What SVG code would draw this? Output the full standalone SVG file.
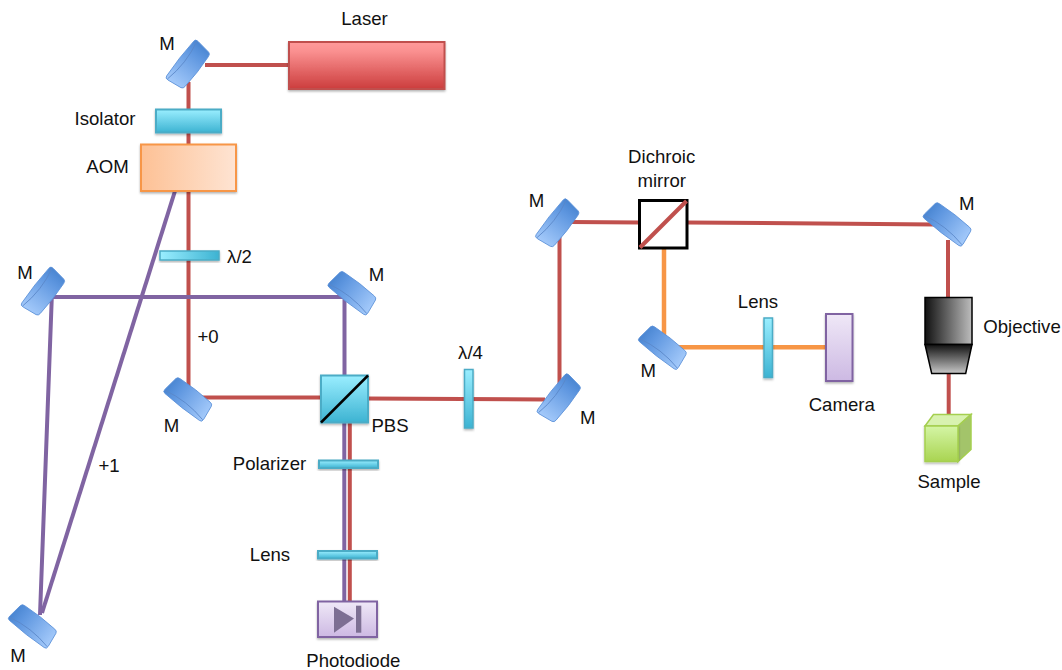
<svg xmlns="http://www.w3.org/2000/svg" width="1062" height="670" viewBox="0 0 1062 670">
<style>
text{font-family:"Liberation Sans",Arial,sans-serif;font-size:18.6px;fill:#111;text-anchor:middle}
.r{fill:none;stroke:#c0504d;stroke-width:4}
.p{fill:none;stroke:#8064a2;stroke-width:4}
.o{fill:none;stroke:#f79646;stroke-width:4.5}
.c{stroke:#4bacc6;stroke-width:2;fill:url(#cyan);filter:url(#sh)}
.v{stroke:#8064a2;stroke-width:2;fill:url(#violet);filter:url(#sh)}
</style>
<defs>
<filter id="sh" x="-20%" y="-20%" width="140%" height="150%"><feDropShadow dx="0" dy="1.5" stdDeviation="1.2" flood-color="#000" flood-opacity=".3"/></filter>
<linearGradient id="red" x1="0" y1="0" x2="0" y2="1"><stop offset="0" stop-color="#ff9a9a"/><stop offset=".2" stop-color="#fa9090"/><stop offset="1" stop-color="#cc3d3d"/></linearGradient>
<linearGradient id="cyan" x1="0" y1="0" x2="0" y2="1"><stop offset="0" stop-color="#9aeeff"/><stop offset="1" stop-color="#3db3d2"/></linearGradient>
<linearGradient id="cyanH" x1="0" y1="0" x2="1" y2="0"><stop offset="0" stop-color="#9aeeff"/><stop offset="1" stop-color="#3db3d2"/></linearGradient>
<linearGradient id="orange" x1="0" y1="0" x2="1" y2="0"><stop offset="0" stop-color="#fdc195"/><stop offset="1" stop-color="#fee4d3"/></linearGradient>
<linearGradient id="violet" x1="0" y1="0" x2="0" y2="1"><stop offset="0" stop-color="#efe8f7"/><stop offset="1" stop-color="#cdb9e3"/></linearGradient>
<linearGradient id="objA" x1="0" y1="0" x2="1" y2="0"><stop offset="0" stop-color="#111"/><stop offset="1" stop-color="#bdbdbd"/></linearGradient>
<linearGradient id="objB" x1="0" y1="0" x2="0" y2="1"><stop offset="0" stop-color="#111"/><stop offset="1" stop-color="#c8c8c8"/></linearGradient>
<linearGradient id="green" x1="0" y1="0" x2="0" y2="1"><stop offset="0" stop-color="#d4f5a5"/><stop offset="1" stop-color="#a9d451"/></linearGradient>
<linearGradient id="mir" x1="-24" y1="0" x2="24" y2="0" gradientUnits="userSpaceOnUse"><stop offset="0" stop-color="#a3c9fa"/><stop offset=".75" stop-color="#5f97e0"/><stop offset="1" stop-color="#4a86d2"/></linearGradient>
<path id="mshape" d="M-22,-10.500 Q0,-12 22,-10.500 Q25,-10.500 24.500,-7 L22.500,8 Q22,10.500 19,10.500 Q0,12 -19,10.500 Q-22,10.500 -22.500,8 L-24.500,-7 Q-25,-10.500 -22,-10.500Z"/>
<g id="mirror">
<use href="#mshape" fill="url(#mir)" stroke="#5a90d8" stroke-width=".8"/>
<path d="M-24,-8 Q0,-2.500 24,-8" fill="none" stroke="#5a87c8" stroke-width=".8"/>
</g>
</defs>
<rect width="1062" height="670" fill="#fff"/>
<g id="connectors">
<path class="r" d="M205,65H289"/>
<path class="r" d="M188.500,82V397.500H321"/>
<path class="r" d="M368,398.500L545,399.500"/>
<path class="r" d="M559.500,385V223"/>
<path class="r" d="M570,222L640,222.500"/>
<path class="r" d="M687,222.500L935,224.500"/>
<path class="r" d="M948,240V297"/>
<path class="r" d="M948.700,374V414"/>
<path class="r" d="M349.800,422V601.500"/>
<path class="p" d="M175,191L42,613"/>
<path class="p" d="M40,615L51.800,297H344.500V375"/>
<path class="p" d="M344.300,422V601.500"/>
<path class="o" d="M664,248V335"/>
<path class="o" d="M675,347.300H826"/>
</g>
<g id="laser"><rect x="289" y="42" width="155.500" height="47" fill="url(#red)" stroke="#c0504d" stroke-width="2" filter="url(#sh)"/><text x="364.500" y="25">Laser</text></g>
<g id="mirror-laser"><use href="#mirror" transform="translate(188.500,65) rotate(-52)"/><text x="167" y="50">M</text></g>
<g id="isolator"><rect class="c" x="156" y="109.500" width="65" height="23"/><text x="105" y="125">Isolator</text></g>
<g id="aom"><rect x="141" y="144.500" width="95" height="46.500" fill="url(#orange)" stroke="#f79646" stroke-width="2" filter="url(#sh)"/><text x="107.500" y="173">AOM</text></g>
<g id="half-wave"><rect x="160" y="251" width="59" height="9" fill="url(#cyanH)" stroke="#4bacc6" stroke-width="1.500" filter="url(#sh)"/><text x="239.500" y="263">λ/2</text></g>
<g id="mirror-left"><use href="#mirror" transform="translate(43.700,292) rotate(-52)"/><text x="25" y="279">M</text></g>
<g id="mirror-top"><use href="#mirror" transform="translate(352.800,292.500) rotate(-142)"/><text x="376.500" y="281">M</text></g>
<g id="mirror-lower"><use href="#mirror" transform="translate(188.700,398.700) rotate(-142)"/><text x="171.500" y="432">M</text></g>
<g id="mirror-bottom"><use href="#mirror" transform="translate(33.300,625.700) rotate(-142)"/><text x="18" y="662">M</text></g>
<g id="order-labels"><text x="208" y="343">+0</text><text x="109" y="472">+1</text></g>
<g id="pbs"><rect class="c" x="321" y="375.500" width="47" height="47"/><path d="M321,422.500L368,375.500" stroke="#000" stroke-width="2.500"/><text x="390" y="432">PBS</text></g>
<g id="quarter-wave"><rect x="464.500" y="369.500" width="8.500" height="58.500" fill="url(#cyan)" stroke="#4bacc6" stroke-width="1.500" filter="url(#sh)"/><text x="470.500" y="359">λ/4</text></g>
<g id="polarizer"><rect class="c" x="319" y="460.500" width="59" height="7.500"/><text x="269.500" y="470">Polarizer</text></g>
<g id="lens-1"><rect class="c" x="318" y="551" width="59" height="7.500"/><text x="270" y="561">Lens</text></g>
<g id="photodiode"><rect class="v" x="318" y="601.500" width="59" height="35.500"/><path d="M334,606.700L354,618.500L334,632.700Z" fill="#7d6f93"/><rect x="356" y="605.700" width="5.300" height="27" fill="#7d6f93"/><text x="353.300" y="667">Photodiode</text></g>
<g id="mirror-r1"><use href="#mirror" transform="translate(558,223.700) rotate(-52)"/><text x="536.500" y="207">M</text></g>
<g id="mirror-r2"><use href="#mirror" transform="translate(559.500,398.700) rotate(-52)"/><text x="587.700" y="424">M</text></g>
<g id="mirror-r3"><use href="#mirror" transform="translate(663.300,347) rotate(-142)"/><text x="648.300" y="377">M</text></g>
<g id="mirror-r4"><use href="#mirror" transform="translate(948,223.700) rotate(-142)"/><text x="966.700" y="210">M</text></g>
<g id="dichroic"><rect x="639.500" y="200.500" width="47.500" height="47.500" fill="#fff" stroke="#000" stroke-width="3"/><path d="M640,247.500L686.500,201" stroke="#c0504d" stroke-width="4"/><text x="661.700" y="163">Dichroic</text><text x="661.700" y="187">mirror</text></g>
<g id="lens-2"><rect x="764" y="318" width="8.500" height="59.500" fill="url(#cyan)" stroke="#4bacc6" stroke-width="1.500" filter="url(#sh)"/><text x="758" y="308">Lens</text></g>
<g id="camera"><rect class="v" x="826" y="314" width="26.500" height="67"/><text x="841.700" y="411">Camera</text></g>
<g id="objective"><rect x="925" y="297.500" width="47" height="47" fill="url(#objA)" stroke="#000" stroke-width="1.500"/><path d="M925,344.500H972L965.700,373.500H931.700Z" fill="url(#objB)" stroke="#000" stroke-width="1.500"/><text x="1022" y="333">Objective</text></g>
<g id="sample"><path d="M925,426L933.500,414.500H971L958,426Z" fill="#d8f2b0" stroke="#a5cf4f" stroke-width="1.500"/><path d="M958,426L971,414.500V449.500L958,461.500Z" fill="#a3c46a" stroke="#a5cf4f" stroke-width="1.500"/><rect x="925" y="426" width="33" height="35.500" fill="url(#green)" stroke="#a5cf4f" stroke-width="1.500" filter="url(#sh)"/><text x="949" y="488">Sample</text></g>
</svg>
